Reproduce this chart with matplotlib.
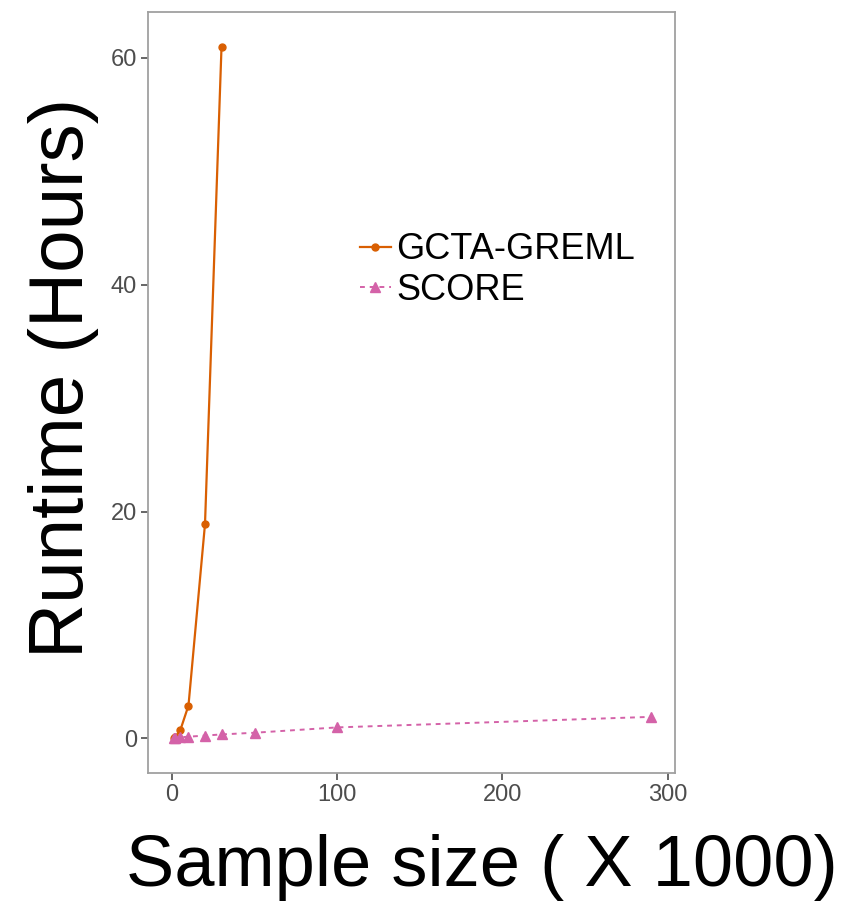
import matplotlib
matplotlib.use("Agg")
from matplotlib import pyplot as plt

# sample size in thousands, runtime in hours
gcta_n = [1, 2, 5, 10, 20, 30]
gcta_hours = [0.02, 0.1, 0.7, 2.9, 18.9, 61.0]
score_n = [1, 2, 5, 10, 20, 30, 50, 100, 290]
score_hours = [0.03, 0.05, 0.1, 0.15, 0.25, 0.35, 0.5, 0.97, 1.9]

x_ticks = [0, 100, 200, 300]
y_ticks = [0, 20, 40, 60]

plt.rcParams['font.family'] = ['Liberation Sans', 'DejaVu Sans']

fig = plt.figure(figsize=(8.59, 9.06), dpi=100)
ax = fig.add_axes([0.1723, 0.1468, 0.6135, 0.84])

ax.plot(gcta_n, gcta_hours, color="#D95F02", lw=1.6, marker="o", ms=5,
        label="GCTA-GREML")
ax.plot(score_n, score_hours, color="#D462A8", lw=1.4, ls=(0, (2.5, 2.5)),
        marker="^", ms=7, label="SCORE")

ax.set_xlim(-14.5, 304.5)
ax.set_ylim(-3.05, 64.05)
ax.set_xticks(x_ticks)
ax.set_yticks(y_ticks)
ax.tick_params(colors="#4D4D4D", labelsize=17, length=5, width=1.2, pad=3)
for s in ax.spines.values():
    s.set_color("#A0A0A0")
    s.set_linewidth(1.3)

ax.set_xlabel("Sample size ( X 1000)", fontsize=52)
ax.set_ylabel("Runtime (Hours)", fontsize=55)
ax.xaxis.set_label_coords(0.634, -0.080)
ax.yaxis.set_label_coords(-0.093, 0.519)

ax.legend(frameon=False, fontsize=26, loc="center left",
          bbox_to_anchor=(360/859, 1 - 270/906), bbox_transform=fig.transFigure,
          borderpad=0, borderaxespad=0, handlelength=0.85, handletextpad=0.15,
          labelspacing=0.15)

fig.savefig("out.png", dpi=100)
